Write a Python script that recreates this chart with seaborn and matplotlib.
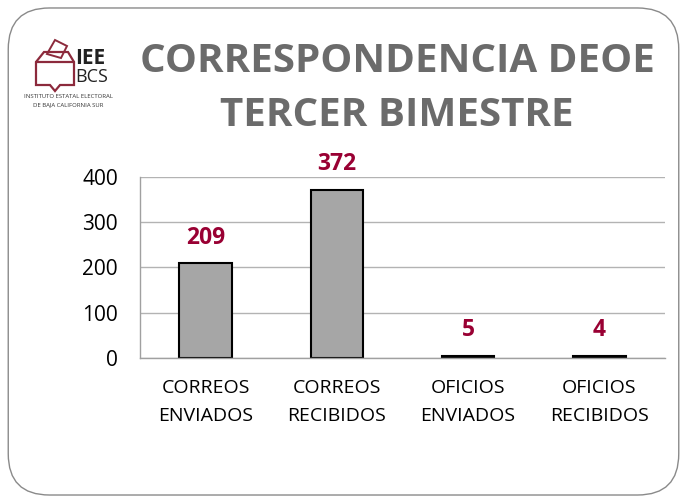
import matplotlib
matplotlib.use("Agg")
import matplotlib.pyplot as plt
import seaborn as sns
import pandas as pd
from matplotlib.patches import FancyBboxPatch, Polygon
from matplotlib.lines import Line2D

categories = ["CORREOS\nENVIADOS", "CORREOS\nRECIBIDOS", "OFICIOS\nENVIADOS", "OFICIOS\nRECIBIDOS"]
values = [209, 372, 5, 4]
yticks = [0, 100, 200, 300, 400]
title_lines = ["CORRESPONDENCIA DEOE", "TERCER BIMESTRE"]

sns.set_theme(style="white")
plt.rcParams['font.family'] = ['Open Sans', 'DejaVu Sans']

fig = plt.figure(figsize=(6.87, 4.99), dpi=100)
fig.patch.set_facecolor("white")

# rounded slide border
border = FancyBboxPatch((0.012, 0.008), 0.976, 0.976, boxstyle="round,pad=0,rounding_size=0.06",
                        transform=fig.transFigure, fill=False, edgecolor="#8a8a8a", linewidth=1.0,
                        mutation_aspect=687/499)
fig.patches.append(border)

ax = fig.add_axes([0.2038, 0.2826, 0.764, 0.3627])
df = pd.DataFrame({"cat": categories, "val": values})
sns.barplot(data=df, x="cat", y="val", ax=ax, color="#a6a6a6", width=0.40,
            edgecolor="black", linewidth=1.5, saturation=1)
ax.set_ylim(0, 400)
ax.set_yticks(yticks)
ax.set_xlim(-0.5, 3.5)
ax.yaxis.grid(True, color="#b3b3b3", linewidth=1.0)
ax.set_axisbelow(True)
for s in ["top", "right"]:
    ax.spines[s].set_visible(False)
for s in ["left", "bottom"]:
    ax.spines[s].set_color("#a0a0a0")
    ax.spines[s].set_linewidth(1.0)
ax.set_xlabel("")
ax.set_ylabel("")
ax.tick_params(axis="both", length=0, colors="black")
ax.tick_params(axis="y", pad=16, labelsize=15)
ax.tick_params(axis="x", pad=15, labelsize=14)
for lbl in ax.get_xticklabels():
    lbl.set_linespacing(1.75)

for i, v in enumerate(values):
    ax.annotate(str(v), (i, v), xytext=(0, 10), textcoords="offset points",
                ha="center", va="bottom", fontsize=16.5, fontweight="bold", color="#990033")

fig.text(0.578, 0.876, title_lines[0], ha="center", va="center", fontsize=29,
         fontweight="bold", color="#6b6b6b")
fig.text(0.578, 0.769, title_lines[1], ha="center", va="center", fontsize=29,
         fontweight="bold", color="#6b6b6b")

# logo
red = "#8c2a3c"
pts = [(36, 85), (36, 62), (44, 52), (68, 52), (74, 62), (74, 85), (60, 85), (55, 91), (50, 85)]
poly = Polygon([(x / 687, 1 - y / 499) for x, y in pts], closed=True, fill=False,
               edgecolor=red, linewidth=1.6, transform=fig.transFigure)
fig.patches.append(poly)
fig.lines.append(Line2D([36/687, 74/687], [1-62/499, 1-62/499], color=red, lw=1.6, transform=fig.transFigure))
ballot = Polygon([(x / 687, 1 - y / 499) for x, y in [(47, 54), (55, 40), (67, 46), (61, 58)]],
                 closed=True, fill=False, edgecolor=red, linewidth=1.4, transform=fig.transFigure)
fig.patches.append(ballot)
fig.text(75/687, 1 - 58/499, "IEE", fontsize=15, fontweight="bold", color="#222222", va="center", ha="left")
fig.text(75/687, 1 - 77/499, "BCS", fontsize=13, color="#222222", va="center", ha="left")
fig.text(68/687, 1 - 97/499, "INSTITUTO ESTATAL ELECTORAL", fontsize=4.3, color="#333333", ha="center", va="center")
fig.text(68/687, 1 - 105/499, "DE BAJA CALIFORNIA SUR", fontsize=4.3, color="#333333", ha="center", va="center")

fig.savefig("out.png", dpi=100, facecolor="white")
